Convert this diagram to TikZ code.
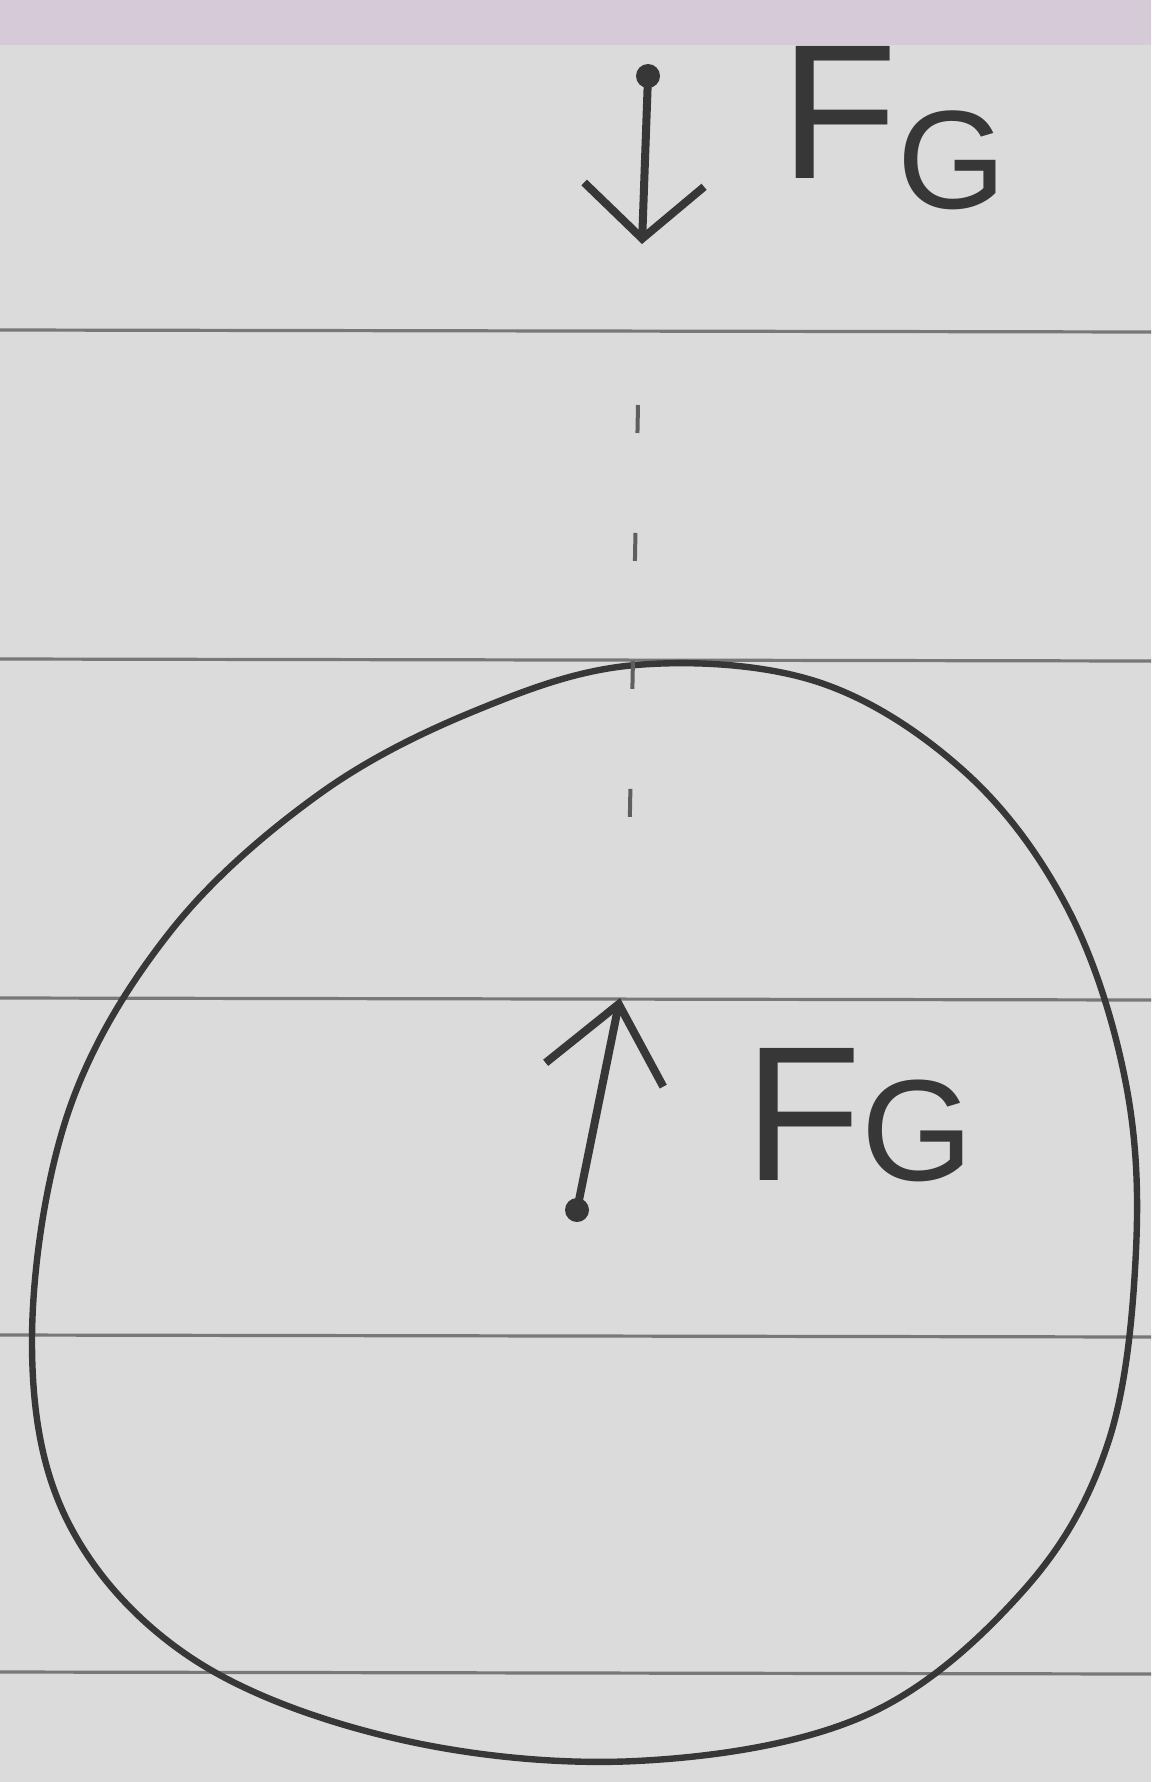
\documentclass[tikz,border=0pt]{standalone}
\usepackage{fontspec}
\setmainfont{Liberation Sans}
\usetikzlibrary{arrows.meta}
\definecolor{paper}{RGB}{219,219,219}
\definecolor{rule}{RGB}{120,120,120}
\definecolor{ink}{RGB}{55,55,55}
\definecolor{strip}{RGB}{214,202,216}
\tikzset{
  paperline/.style={draw=rule, line width=1.6pt},
  inkline/.style={draw=ink, line width=4pt, line cap=round, line join=round},
  inkdot/.style={circle, fill=ink, inner sep=0pt, minimum size=12pt},
  force/.style={inkline, -{Straight Barb[length=#1, width=60pt, line width=4pt]}},
  lab/.style={text=ink, inner sep=0pt, font=\fontsize{96}{100}\selectfont},
}
\begin{document}
\begin{tikzpicture}[x=0.5pt,y=-0.5pt]
\useasboundingbox (0,0) rectangle (1151,1782);
\fill[paper] (0,0) rectangle (1151,1782);
\fill[strip] (0,0) rectangle (1151,45);
% ruled lines
\foreach \yy in {330,659,998,1335,1672}
  \draw[paperline] (0,\yy) -- (1151,\yy+2);
% circle (hand-drawn)
\draw[ink, line width=3.2pt] plot[smooth cycle, tension=0.6] coordinates {
 (636,665) (818,682) (966,773) (1068,909) (1125,1079) (1136,1250) (1108,1443)
 (1023,1591) (864,1716) (636,1761) (398,1739) (193,1659) (68,1522) (32,1341)
 (68,1113) (170,932) (318,795) (477,710)};
% dashed centre line
\coordinate (c1) at (638,405);
\coordinate (c2) at (628,910);
\draw[ink!80, line width=2pt, dash pattern=on 14pt off 50pt] (c1) -- (c2);
% top force
\node[inkdot] (d1) at (648,76) {};
\coordinate (t1) at (642,244);
\draw[force=27pt] (d1.center) -- (t1);
\node[lab, anchor=base west] (l1) at (780,178) {F\raisebox{-15pt}{\fontsize{70}{72}\selectfont G}};
% bottom force
\node[inkdot] (d2) at (577,1210) {};
\coordinate (t2) at (620,998);
\draw[force=36pt] (d2.center) -- (t2);
\node[lab, anchor=base west] (l2) at (744,1180) {F{\fontsize{72}{74}\selectfont G}};
\end{tikzpicture}
\end{document}
